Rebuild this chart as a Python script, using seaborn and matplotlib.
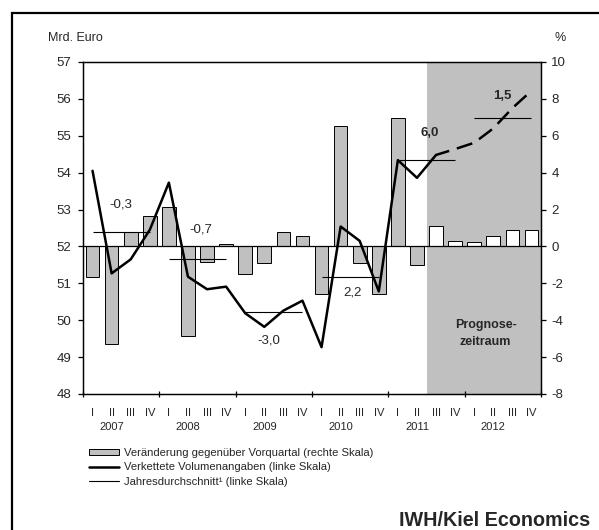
import numpy as np
import matplotlib
matplotlib.use("Agg")
import matplotlib.pyplot as plt
import seaborn as sns
from matplotlib.patches import Patch, Rectangle
from matplotlib.lines import Line2D

# =========================
# Daten
# =========================
years = ["2007", "2008", "2009", "2010", "2011", "2012"]
quarter_names = ["I", "II", "III", "IV"]

# Veränderung gegenüber Vorquartal in % (rechte Skala)
bar_values = [-1.64, -5.28, 0.80, 1.67, 2.15, -4.86, -0.86, 0.11,
              -1.50, -0.88, 0.80, 0.58, -2.60, 6.53, -0.88, -2.60,
              6.96, -1.00, 1.09, 0.31, 0.22, 0.56, 0.89, 0.89]

# Verkettete Volumenangaben in Mrd. Euro (linke Skala)
volume = [54.05, 51.27, 51.65, 52.45, 53.73, 51.18, 50.84, 50.91,
          50.19, 49.82, 50.26, 50.53, 49.27, 52.54, 52.15, 50.78,
          54.34, 53.86, 54.48, 54.64, 54.81, 55.20, 55.75, 56.22]

# Jahresdurchschnitt (linke Skala) und Veränderungsraten
annual_avg = [52.39, 51.67, 50.21, 51.16, 54.34, 55.47]
annual_rate = ["-0,3", "-0,7", "-3,0", "2,2", "6,0", "1,5"]

n_hist = 18  # ab 2011 III Prognose

# =========================
# Stil
# =========================
sns.set_style("ticks")
plt.rcParams["font.family"] = ["Liberation Sans", "DejaVu Sans"]
plt.rcParams["axes.unicode_minus"] = False

idx = np.arange(len(volume))
cats = [f"{y} {q}" for y in years for q in quarter_names]
phase = ["hist"] * n_hist + ["prog"] * (len(cats) - n_hist)

fig = plt.figure(figsize=(5.99, 5.30), dpi=100)
ax_bar = fig.add_axes([83 / 599, 1 - 394 / 530, 458 / 599, 332 / 530])
ax_line = ax_bar.twinx()

# Prognosezeitraum
ax_bar.axvspan(n_hist - 0.5, len(cats) - 0.5, color="#c0c0c0", zorder=0, lw=0)

sns.barplot(x=cats, y=bar_values, hue=phase, order=cats,
            palette={"hist": "#c0c0c0", "prog": "white"},
            dodge=False, width=0.72, edgecolor="black", linewidth=0.7,
            legend=False, ax=ax_bar, zorder=2)
ax_bar.axhline(0, color="black", lw=0.9, zorder=3)

# Linie: bis 2011 III durchgezogen, danach gestrichelt
sns.lineplot(x=idx[:n_hist + 1], y=volume[:n_hist + 1], color="black",
             lw=1.8, ax=ax_line)
sns.lineplot(x=idx[n_hist:], y=volume[n_hist:], color="black",
             lw=1.8, ls=(1, (6.5, 3.2)), ax=ax_line)

# Jahresdurchschnitte
for k, avg in enumerate(annual_avg):
    ax_line.hlines(avg, 4 * k, 4 * k + 3, color="black", lw=0.8)

label_pos = [(1.49, 53.15), (5.66, 52.45), (9.26, 49.45),
             (13.64, 50.75), (17.66, 55.07), (21.46, 56.08)]
for k, (txt, (lx, ly)) in enumerate(zip(annual_rate, label_pos)):
    ax_line.text(lx, ly, txt, ha="center", va="center", fontsize=9.5,
                 fontweight="bold" if k >= 4 else "normal")

ax_line.text(20.6, 49.64, "Prognose-\nzeitraum", ha="center", va="center",
             fontsize=9, fontweight="bold", linespacing=1.45)

# Achsen
ax_bar.set_xlim(-0.5, len(cats) - 0.5)
ax_bar.set_ylim(-8, 10)
ax_bar.set_yticks(np.arange(-8, 11, 2))
ax_line.set_ylim(48, 57)
ax_line.set_yticks(np.arange(48, 58, 1))
ax_bar.yaxis.tick_right()
ax_line.yaxis.tick_left()
ax_bar.set_xlabel("")
ax_bar.set_ylabel("")
ax_line.set_xlabel("")
ax_line.set_ylabel("")

ax_bar.set_xticks(idx)
ax_bar.set_xticklabels(quarter_names * len(years), fontsize=8)
ax_bar.set_xticks(np.arange(-0.5, len(cats), 4), minor=True)
ax_bar.tick_params(axis="x", which="major", length=0, pad=10)
ax_bar.tick_params(axis="x", which="minor", direction="inout", length=5,
                   width=0.9, color="black")
ax_bar.tick_params(axis="y", direction="out", length=3.5, width=0.9,
                   pad=4, labelsize=9.5, color="black")
ax_line.tick_params(axis="y", direction="out", length=3.5, width=0.9,
                    pad=5, labelsize=9.5, color="black")

for a in (ax_bar, ax_line):
    for s in a.spines.values():
        s.set_linewidth(0.9)
        s.set_color("black")

for k, y in enumerate(years):
    ax_bar.text(4 * k + 1, -0.1, y, transform=ax_bar.get_xaxis_transform(),
                ha="center", va="center", fontsize=8)

fig.text(48 / 599, 1 - 38 / 530, "Mrd. Euro", ha="left", va="center", fontsize=9)
fig.text(560 / 599, 1 - 38 / 530, "%", ha="center", va="center", fontsize=9)

# Legende
handles = [Patch(facecolor="#c0c0c0", edgecolor="black", lw=0.7),
           Line2D([], [], color="black", lw=1.8),
           Line2D([], [], color="black", lw=0.8)]
labels = ["Veränderung gegenüber Vorquartal (rechte Skala)",
          "Verkettete Volumenangaben (linke Skala)",
          "Jahresdurchschnitt¹ (linke Skala)"]
fig.legend(handles, labels, loc="upper left",
           bbox_to_anchor=(89 / 599, 1 - 448 / 530), frameon=False,
           fontsize=8.1, handlelength=2.7, handleheight=0.5,
           handletextpad=0.4, labelspacing=0.38, borderpad=0,
           borderaxespad=0)

fig.text(399 / 599, 1 - 526 / 530, "IWH/Kiel Economics", ha="left",
         va="baseline", fontsize=14.2, fontweight="bold")

# Rahmen
fig.add_artist(Rectangle((12 / 599, -0.5), 2, 0.5 + 1 - 12.7 / 530,
                         transform=fig.transFigure, fill=False,
                         lw=1.6, edgecolor="black"))

fig.savefig("out.png", dpi=100)
